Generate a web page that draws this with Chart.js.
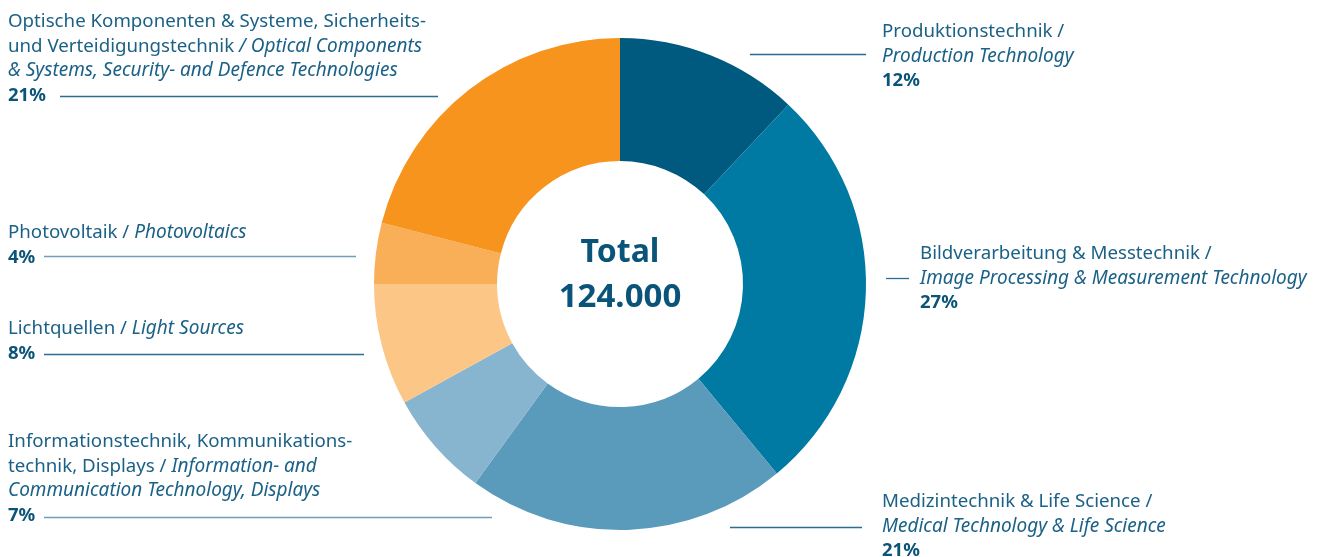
<!DOCTYPE html>
<html><head><meta charset="utf-8">
<script src="https://cdn.jsdelivr.net/npm/chart.js@4.4.1/dist/chart.umd.min.js"></script>
<style>html,body{margin:0;padding:0;background:#fff}#wrap{width:1324px;height:557px;position:relative}</style>
</head><body><div id="wrap"><canvas id="c" width="1324" height="557"></canvas></div>
<script>
const categories = ['Produktionstechnik','Bildverarbeitung & Messtechnik','Medizintechnik & Life Science','Informationstechnik, Kommunikationstechnik, Displays','Lichtquellen','Photovoltaik','Optische Komponenten & Systeme, Sicherheits- und Verteidigungstechnik'];
const values = [12, 27, 21, 7, 8, 4, 21];
const colors = ['#005A80','#0079A3','#5A9BBC','#87B4CF','#FCC687','#F9AE58','#F7941D'];
const percentLabels = ['12%','27%','21%','7%','8%','4%','21%'];
// label text lines: [text, italic]
const labelLines = [
  [[['Produktionstechnik /',0]],[['Production Technology',1]]],
  [[['Bildverarbeitung & Messtechnik /',0]],[['Image Processing & Measurement Technology',1]]],
  [[['Medizintechnik & Life Science /',0]],[['Medical Technology & Life Science',1]]],
  [[['Informationstechnik, Kommunikations-',0]],[['technik, Displays / ',0],['Information- and',1]],[['Communication Technology, Displays',1]]],
  [[['Lichtquellen / ',0],['Light Sources',1]]],
  [[['Photovoltaik / ',0],['Photovoltaics',1]]],
  [[['Optische Komponenten & Systeme, Sicherheits-',0]],[['und Verteidigungstechnik ',0],['/ Optical Components',1]],[['& Systems, Security- and Defence Technologies',1]]]
];
const totalTitle = 'Total';
const totalValue = '124.000';

// layout for labels (text x, first baseline y, leader line x1,x2,y)
const layout = [
  {x:882, y:37, lx1:750, lx2:866, ly:54},
  {x:920, y:259, lx1:886, lx2:909, ly:278},
  {x:882, y:507, lx1:730, lx2:862, ly:527},
  {x:8, y:447, lx1:44, lx2:492, ly:517},
  {x:8, y:334, lx1:44, lx2:364, ly:354},
  {x:8, y:238, lx1:44, lx2:356, ly:256},
  {x:8, y:27, lx1:60, lx2:438, ly:96}
];
const FONT = '"Noto Sans", sans-serif';
const SIZE = 18.7, ISIZE = 19, PSIZE = 18.5, LH = 24.5;
const TEXT_COLOR = '#1B6187', PCT_COLOR = '#0B5479', LINE_COLORS = ['#2A6E93','#2A6E93','#2A6E93','#6E9FB8','#2A6E93','#6E9FB8','#2A6E93'];

const labelPlugin = {
  id:'labels',
  afterDraw(chart){
    const ctx = chart.ctx;
    ctx.save();
    ctx.textBaseline = 'alphabetic';
    ctx.textAlign = 'left';
    layout.forEach((L,i)=>{
      const lines = labelLines[i];
      let y = L.y;
      lines.forEach(line=>{
        let x = L.x;
        line.forEach(([t,it])=>{
          ctx.font = it ? ('italic ' + ISIZE + 'px ' + FONT) : (SIZE + 'px ' + FONT);
          ctx.fillStyle = TEXT_COLOR;
          ctx.fillText(t, x, y);
          x += ctx.measureText(t).width;
        });
        y += LH;
      });
      ctx.font = 'bold ' + PSIZE + 'px ' + FONT;
      ctx.fillStyle = PCT_COLOR;
      ctx.fillText(percentLabels[i], L.x, y);
      ctx.strokeStyle = LINE_COLORS[i];
      ctx.lineWidth = 1.3;
      ctx.beginPath();
      ctx.moveTo(L.lx1, L.ly + 0.5);
      ctx.lineTo(L.lx2, L.ly + 0.5);
      ctx.stroke();
    });
    // center text
    const m = chart.getDatasetMeta(0).data[0];
    ctx.textAlign = 'center';
    ctx.fillStyle = '#0B5479';
    ctx.font = 'bold 32px ' + FONT;
    ctx.fillText(totalTitle, m.x, m.y - 22);
    ctx.font = 'bold 33px ' + FONT;
    ctx.fillText(totalValue, m.x, m.y + 23);
    ctx.restore();
  }
};

new Chart(document.getElementById('c'), {
  type:'doughnut',
  data:{labels:categories, datasets:[{data:values, backgroundColor:colors, borderWidth:0, hoverOffset:0}]},
  options:{
    responsive:false, animation:false, cutout:'50%',
    layout:{padding:{left:374, right:458, top:38, bottom:27}},
    plugins:{legend:{display:false}, tooltip:{enabled:false}}
  },
  plugins:[labelPlugin]
});
</script></body></html>
